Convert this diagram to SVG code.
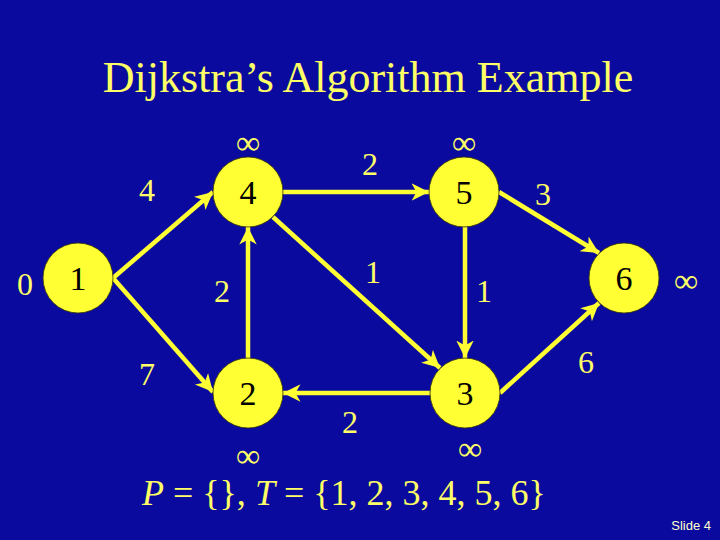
<svg xmlns="http://www.w3.org/2000/svg" width="720" height="540" viewBox="0 0 720 540">
<style>
.t{font-family:"Liberation Serif","Times New Roman",serif;fill:#FFFF66;text-anchor:middle}
.lbl{font-size:32px}
.inf{font-size:34px}
.nd circle{fill:#FFFF33;stroke:#3a3a00;stroke-width:0.8}
.nd text{font-family:"Liberation Serif","Times New Roman",serif;font-size:34px;fill:#000;text-anchor:middle}
.e line{stroke:#FFFF33;stroke-width:4.5;marker-end:url(#ah)}
.e line.n{marker-end:none}
</style>
<defs>
<marker id="ah" markerUnits="userSpaceOnUse" markerWidth="20" markerHeight="20" refX="14" refY="7" orient="auto" viewBox="0 0 16 14">
<path d="M0,0 L14,7 L0,14 L4,7 Z" fill="#FFFF33"/>
</marker>
</defs>
<rect width="720" height="540" fill="#0A0A9E"/>
<text class="t" x="368" y="92" font-size="44">Dijkstra’s Algorithm Example</text>
<g id="edges" class="e">
<line x1="113" y1="278" x2="213" y2="192"/>
<line x1="113" y1="278" x2="213" y2="392"/>
<line x1="283" y1="192" x2="429" y2="192"/>
<line x1="248" y1="358" x2="248" y2="227"/>
<line x1="273" y1="217" x2="440" y2="368"/>
<line x1="465" y1="227" x2="465" y2="358"/>
<line x1="430" y1="393" x2="283" y2="393"/>
<line x1="499" y1="192" x2="599" y2="253"/>
<line x1="500" y1="393" x2="599" y2="303"/>
</g>
<g id="n1" class="nd"><circle cx="78" cy="278" r="35"/><text x="78" y="290">1</text></g>
<g id="n4" class="nd"><circle cx="248" cy="192" r="35"/><text x="248" y="204">4</text></g>
<g id="n5" class="nd"><circle cx="464" cy="192" r="35"/><text x="464" y="204">5</text></g>
<g id="n6" class="nd"><circle cx="624" cy="278" r="35"/><text x="624" y="290">6</text></g>
<g id="n2" class="nd"><circle cx="248" cy="393" r="35"/><text x="248" y="405">2</text></g>
<g id="n3" class="nd"><circle cx="465" cy="393" r="35"/><text x="465" y="405">3</text></g>
<g id="labels">
<text class="t lbl" x="25" y="295">0</text>
<text class="t inf" x="248" y="154">∞</text>
<text class="t inf" x="464" y="154">∞</text>
<text class="t inf" x="686" y="292">∞</text>
<text class="t inf" x="248" y="467">∞</text>
<text class="t inf" x="470" y="460">∞</text>
<text class="t lbl" x="147" y="201">4</text>
<text class="t lbl" x="370" y="175">2</text>
<text class="t lbl" x="373" y="283">1</text>
<text class="t lbl" x="484" y="302">1</text>
<text class="t lbl" x="222" y="302">2</text>
<text class="t lbl" x="543" y="205">3</text>
<text class="t lbl" x="147" y="385">7</text>
<text class="t lbl" x="350" y="433">2</text>
<text class="t lbl" x="586" y="373">6</text>
</g>
<text class="t" x="142" y="505" font-size="36" style="text-anchor:start"><tspan font-style="italic">P</tspan> = {}, <tspan font-style="italic">T</tspan> = {1, 2, 3, 4, 5, 6}</text>
<text x="711" y="530" font-family="'Liberation Sans',Arial,sans-serif" font-size="13" fill="#FFFFCC" text-anchor="end">Slide 4</text>
</svg>
